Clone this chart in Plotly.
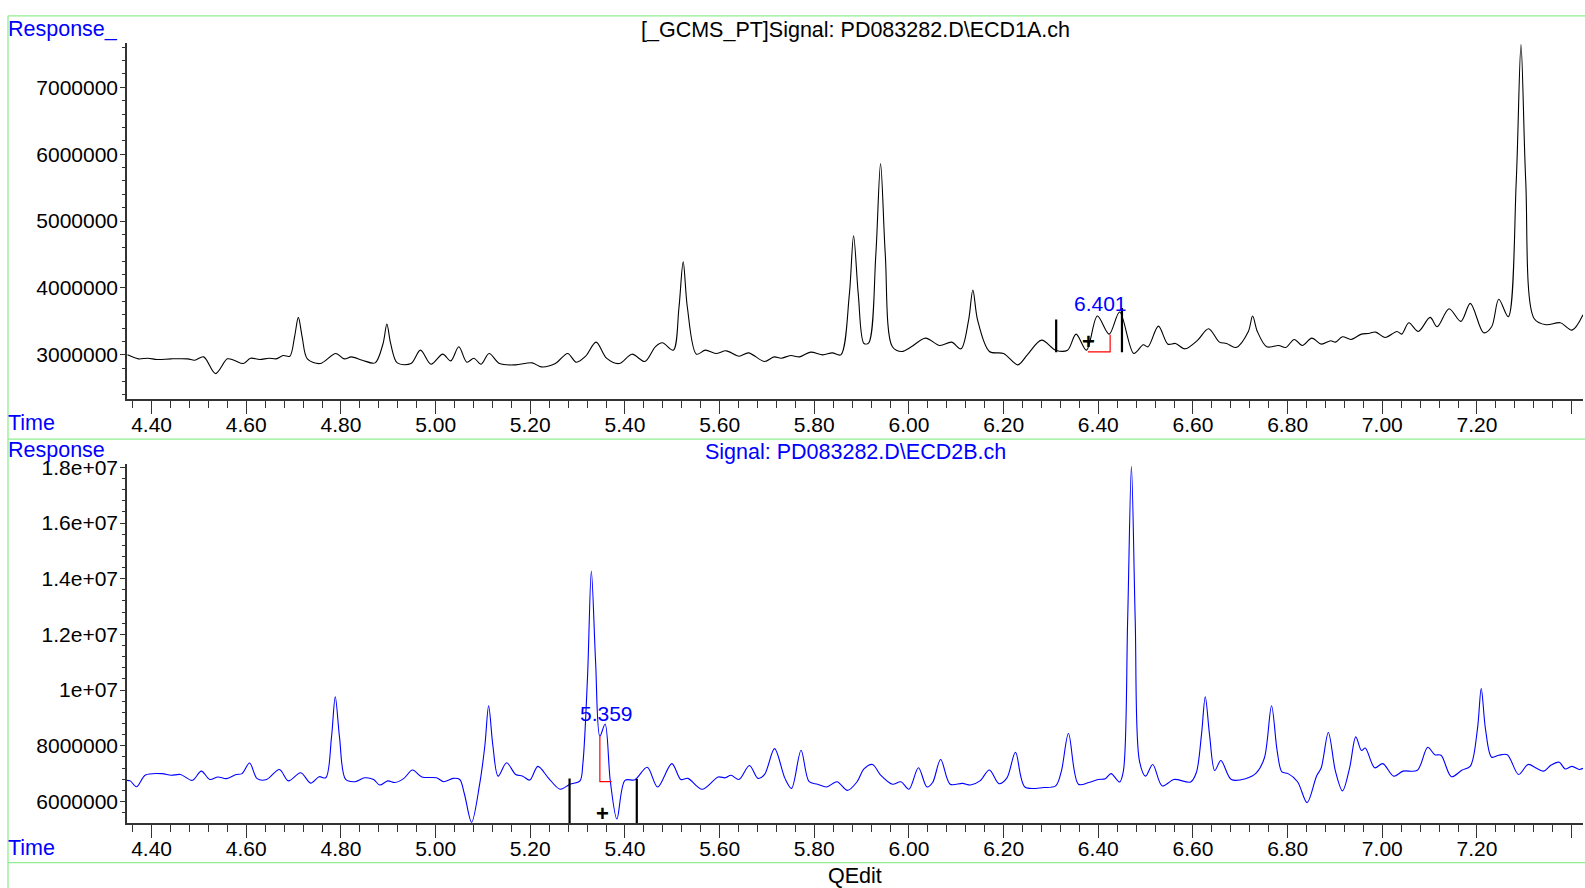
import plotly.graph_objects as go

# ---------------- data ----------------
top_time = [4.349, 4.372, 4.392, 4.412, 4.441, 4.476, 4.491, 4.510, 4.535, 4.560, 4.574, 4.594,
            4.609, 4.628, 4.648, 4.663, 4.678, 4.692, 4.702, 4.710, 4.718, 4.729, 4.756, 4.789,
            4.807, 4.822, 4.845, 4.872, 4.889, 4.897, 4.905, 4.919, 4.948, 4.968, 4.990, 5.015,
            5.032, 5.049, 5.066, 5.081, 5.096, 5.113, 5.135, 5.169, 5.204, 5.223, 5.253, 5.279,
            5.297, 5.317, 5.339, 5.361, 5.388, 5.415, 5.442, 5.464, 5.479, 5.502, 5.514, 5.523,
            5.532, 5.551, 5.570, 5.592, 5.614, 5.641, 5.661, 5.695, 5.715, 5.730, 5.750, 5.769,
            5.792, 5.818, 5.838, 5.856, 5.874, 5.883, 5.893, 5.905, 5.915, 5.930, 5.940, 5.950,
            5.965, 5.985, 6.005, 6.035, 6.065, 6.090, 6.110, 6.126, 6.135, 6.145, 6.170, 6.200,
            6.230, 6.250, 6.280, 6.310, 6.335, 6.353, 6.375, 6.398, 6.423, 6.445, 6.475, 6.495,
            6.505, 6.527, 6.547, 6.563, 6.583, 6.610, 6.633, 6.656, 6.671, 6.691, 6.717, 6.726,
            6.736, 6.756, 6.781, 6.796, 6.814, 6.831, 6.851, 6.871, 6.891, 6.901, 6.916, 6.934,
            6.956, 6.971, 6.986, 7.006, 7.031, 7.041, 7.056, 7.076, 7.101, 7.116, 7.141, 7.166,
            7.186, 7.214, 7.231, 7.246, 7.266, 7.283, 7.293, 7.303, 7.321, 7.346, 7.376, 7.401,
            7.424]
top_response = [3.00, 2.94, 2.95, 2.93, 2.94, 2.94, 2.92, 2.97, 2.72, 2.94, 2.92, 2.87,
                2.95, 2.93, 2.95, 2.94, 2.99, 2.98, 3.27, 3.56, 3.27, 2.94, 2.87, 3.02,
                2.94, 2.97, 2.92, 2.88, 3.17, 3.46, 3.17, 2.88, 2.87, 3.07, 2.86, 3.01,
                2.91, 3.12, 2.89, 2.95, 2.86, 3.02, 2.87, 2.85, 2.88, 2.82, 2.87, 3.02,
                2.89, 2.98, 3.19, 2.95, 2.87, 3.01, 2.90, 3.12, 3.18, 3.07, 3.70, 4.39,
                3.70, 3.01, 3.07, 3.02, 3.06, 2.98, 3.03, 2.90, 2.97, 2.95, 2.99, 2.97,
                3.04, 3.00, 3.03, 3.00, 3.90, 4.78, 3.90, 3.17, 3.18, 4.50, 5.86, 4.50,
                3.12, 3.05, 3.12, 3.25, 3.14, 3.19, 3.09, 3.52, 3.97, 3.52, 3.05, 3.02,
                2.85, 3.00, 3.22, 3.07, 3.07, 3.31, 3.07, 3.58, 3.31, 3.64, 3.02, 3.15,
                3.12, 3.43, 3.16, 3.17, 3.09, 3.22, 3.39, 3.19, 3.17, 3.11, 3.35, 3.58,
                3.35, 3.12, 3.14, 3.11, 3.23, 3.14, 3.25, 3.16, 3.21, 3.19, 3.27, 3.23,
                3.31, 3.32, 3.34, 3.26, 3.35, 3.31, 3.48, 3.35, 3.56, 3.42, 3.69, 3.50,
                3.77, 3.33, 3.42, 3.83, 3.57, 5.60, 7.64, 5.60, 3.54, 3.45, 3.48, 3.37,
                3.60]

bot_time = [4.348, 4.355, 4.368, 4.387, 4.422, 4.441, 4.461, 4.486, 4.505, 4.523, 4.540, 4.558,
            4.579, 4.591, 4.607, 4.623, 4.643, 4.670, 4.689, 4.715, 4.736, 4.754, 4.768, 4.780,
            4.788, 4.797, 4.810, 4.830, 4.850, 4.869, 4.882, 4.899, 4.914, 4.933, 4.951, 4.971,
            5.002, 5.017, 5.037, 5.051, 5.061, 5.076, 5.093, 5.104, 5.112, 5.121, 5.132, 5.150,
            5.169, 5.184, 5.199, 5.216, 5.238, 5.263, 5.284, 5.305, 5.311, 5.321, 5.329, 5.338,
            5.347, 5.358, 5.369, 5.383, 5.400, 5.421, 5.447, 5.469, 5.499, 5.518, 5.533, 5.563,
            5.597, 5.612, 5.624, 5.641, 5.663, 5.681, 5.695, 5.716, 5.738, 5.752, 5.772, 5.789,
            5.807, 5.826, 5.848, 5.870, 5.890, 5.905, 5.923, 5.940, 5.965, 5.983, 6.000, 6.020,
            6.038, 6.050, 6.067, 6.087, 6.113, 6.130, 6.150, 6.170, 6.190, 6.207, 6.225, 6.245,
            6.285, 6.310, 6.322, 6.337, 6.358, 6.380, 6.400, 6.415, 6.427, 6.445, 6.453, 6.462,
            6.470, 6.478, 6.487, 6.500, 6.515, 6.535, 6.560, 6.595, 6.607, 6.618, 6.626, 6.635,
            6.646, 6.659, 6.681, 6.711, 6.734, 6.751, 6.766, 6.778, 6.788, 6.801, 6.821, 6.841,
            6.861, 6.871, 6.886, 6.901, 6.916, 6.931, 6.944, 6.956, 6.964, 6.984, 7.001, 7.024,
            7.044, 7.074, 7.096, 7.111, 7.124, 7.146, 7.168, 7.186, 7.201, 7.209, 7.218, 7.231,
            7.246, 7.264, 7.288, 7.308, 7.326, 7.341, 7.356, 7.374, 7.386, 7.401, 7.416, 7.424]
bot_response = [6.76, 6.74, 6.53, 6.95, 7.00, 6.94, 6.97, 6.76, 7.09, 6.79, 6.88, 6.82,
                6.97, 7.00, 7.38, 6.82, 6.79, 7.15, 6.74, 7.03, 6.66, 6.89, 6.85, 8.30,
                9.76, 8.30, 6.79, 6.71, 6.85, 6.79, 6.59, 6.74, 6.68, 6.83, 7.13, 6.88,
                6.85, 6.71, 6.83, 6.79, 6.26, 5.25, 6.62, 8.00, 9.44, 8.00, 6.91, 7.39,
                6.97, 6.91, 6.77, 7.26, 6.85, 6.44, 6.62, 6.74, 7.34, 10.5, 14.28, 11.0,
                8.34, 8.78, 6.74, 5.37, 6.76, 6.78, 7.23, 6.52, 7.36, 6.79, 6.83, 6.44,
                6.88, 6.85, 6.94, 6.79, 7.29, 6.83, 6.97, 7.90, 6.83, 6.47, 7.84, 6.71,
                6.62, 6.52, 6.71, 6.40, 6.70, 7.17, 7.33, 6.95, 6.62, 6.71, 6.44, 7.21,
                6.52, 6.68, 7.51, 6.62, 6.65, 6.59, 6.74, 7.13, 6.64, 6.85, 7.77, 6.52,
                6.50, 6.56, 7.09, 8.44, 6.62, 6.68, 6.79, 6.82, 7.00, 6.70, 7.09, 12.5,
                18.04, 12.5, 7.45, 6.91, 7.33, 6.56, 6.79, 6.70, 7.03, 8.40, 9.76, 8.40,
                7.11, 7.47, 6.79, 6.82, 7.03, 7.57, 9.44, 7.80, 7.06, 7.00, 6.71, 5.96,
                6.91, 7.21, 8.48, 7.09, 6.38, 7.21, 8.32, 7.83, 7.92, 7.21, 7.36, 6.91,
                7.09, 7.12, 7.95, 7.68, 7.66, 6.89, 7.12, 7.27, 8.60, 10.06, 8.60, 7.59,
                7.66, 7.68, 6.97, 7.33, 7.19, 7.09, 7.30, 7.41, 7.17, 7.26, 7.15, 7.19]

SCALE = 1e6
top_response = [v * SCALE for v in top_response]
bot_response = [v * SCALE for v in bot_response]

# integration event markers
top_event_time = [6.311, 6.450]
top_event_low = [3.04e6, 3.04e6]
top_event_high = [3.53e6, 3.70e6]
top_base_time = [6.378, 6.425, 6.425]
top_base_resp = [3.045e6, 3.045e6, 3.30e6]
top_cross = (6.380, 3.20e6)
top_peak_label = ("6.401", 6.404, 3.77e6)

bot_event_time = [5.283, 5.425]
bot_event_low = [5.22e6, 5.22e6]
bot_event_high = [6.83e6, 6.81e6]
bot_base_time = [5.347, 5.347, 5.372]
bot_base_resp = [8.34e6, 6.71e6, 6.71e6]
bot_cross = (5.353, 5.57e6)
bot_peak_label = ("5.359", 5.361, 9.15e6)

x_tickvals = [4.4, 4.6, 4.8, 5.0, 5.2, 5.4, 5.6, 5.8, 6.0, 6.2, 6.4, 6.6, 6.8, 7.0, 7.2, 7.4]
x_ticktext = ["4.40", "4.60", "4.80", "5.00", "5.20", "5.40", "5.60", "5.80", "6.00", "6.20",
              "6.40", "6.60", "6.80", "7.00", "7.20", ""]
top_y_tickvals = [3e6, 4e6, 5e6, 6e6, 7e6]
top_y_ticktext = ["3000000", "4000000", "5000000", "6000000", "7000000"]
bot_y_tickvals = [6e6, 8e6, 1e7, 1.2e7, 1.4e7, 1.6e7, 1.8e7]
bot_y_ticktext = ["6000000", "8000000", "1e+07", "1.2e+07", "1.4e+07", "1.6e+07", "1.8e+07"]

top_title = "[_GCMS_PT]Signal: PD083282.D\\ECD1A.ch"
bot_title = "Signal: PD083282.D\\ECD2B.ch"

# ---------------- figure ----------------
W, H = 1585, 888
FONT = "Liberation Sans, Arial, sans-serif"
BLUE = "#0000ff"
GREEN = "#90ee90"
AX = "#333333"

def px(x):
    return x / W

def py(y):
    return 1 - y / H

fig = go.Figure()

line_opts = dict(shape="spline", smoothing=0.9, width=1.1)
fig.add_trace(go.Scatter(x=top_time, y=top_response, mode="lines",
                         line=dict(color="black", **line_opts), xaxis="x", yaxis="y",
                         hoverinfo="skip"))
fig.add_trace(go.Scatter(x=bot_time, y=bot_response, mode="lines",
                         line=dict(color=BLUE, **line_opts), xaxis="x2", yaxis="y2",
                         hoverinfo="skip"))

for (ts, lo, hi, xa, ya) in [(top_event_time, top_event_low, top_event_high, "x", "y"),
                             (bot_event_time, bot_event_low, bot_event_high, "x2", "y2")]:
    for t, a, b in zip(ts, lo, hi):
        fig.add_trace(go.Scatter(x=[t, t], y=[a, b], mode="lines",
                                 line=dict(color="black", width=2.2), xaxis=xa, yaxis=ya,
                                 hoverinfo="skip"))
fig.add_trace(go.Scatter(x=top_base_time, y=top_base_resp, mode="lines",
                         line=dict(color="red", width=1.2), xaxis="x", yaxis="y"))
fig.add_trace(go.Scatter(x=bot_base_time, y=bot_base_resp, mode="lines",
                         line=dict(color="red", width=1.2), xaxis="x2", yaxis="y2"))

x_range = [4.348, 7.424]
tickfont = dict(family=FONT, size=21, color="black")

def xaxis(anchor):
    return dict(range=x_range, domain=[px(127), px(1583)], anchor=anchor,
                showline=True, linecolor=AX, linewidth=1.5, ticks="outside", ticklen=13,
                tickwidth=1.3, tickcolor=AX, tickmode="array", tickvals=x_tickvals,
                ticktext=x_ticktext, tickfont=tickfont, showgrid=False, zeroline=False,
                ticklabelstandoff=-7,
                minor=dict(tickmode="linear", tick0=4.36, dtick=0.04, ticks="outside",
                           ticklen=7, tickwidth=1, tickcolor=AX, showgrid=False))

def yaxis(rng, dom, anchor, tv, tt, mdt):
    return dict(range=rng, domain=dom, anchor=anchor, showline=True, linecolor=AX,
                linewidth=1.5, ticks="outside", ticklen=5, tickwidth=1.2, tickcolor=AX,
                tickmode="array", tickvals=tv, ticktext=tt, tickfont=tickfont,
                showgrid=False, zeroline=False, ticklabelstandoff=-2,
                minor=dict(tickmode="linear", tick0=tv[0], dtick=mdt, ticks="outside",
                           ticklen=3, tickwidth=1, tickcolor=AX, showgrid=False))

fig.update_layout(
    width=W, height=H, autosize=False, showlegend=False,
    margin=dict(l=0, r=0, t=0, b=0, pad=0),
    paper_bgcolor="white", plot_bgcolor="white",
    font=dict(family=FONT, size=21, color="black"),
    xaxis=xaxis("y"),
    yaxis=yaxis([2.3333e6, 7.6667e6], [py(395), py(35)], "x",
                top_y_tickvals, top_y_ticktext, 2e5),
    xaxis2=xaxis("y2"),
    yaxis2=yaxis([5.217e6, 1.8125e7], [py(822.7), py(460)], "x2",
                 bot_y_tickvals, bot_y_ticktext, 4e5),
)

shapes = [
    dict(type="line", xref="paper", yref="paper", x0=px(8), x1=1, y0=py(8), y1=py(8)),
    dict(type="line", xref="paper", yref="paper", x0=px(8), x1=1, y0=py(435), y1=py(435)),
    dict(type="line", xref="paper", yref="paper", x0=px(8), x1=1, y0=py(862.3), y1=py(862.3)),
    dict(type="line", xref="paper", yref="paper", x0=px(8), x1=px(8), y0=py(8), y1=0),
]
for s in shapes:
    s["line"] = dict(color=GREEN, width=1.3)
fig.update_layout(shapes=shapes)

ann = []
def text(x, y, s, color="black", size=21.5, xanchor="left"):
    ann.append(dict(x=px(x), y=py(y), xref="paper", yref="paper", text=s, showarrow=False,
                    xanchor=xanchor, yanchor="middle", borderpad=0,
                    font=dict(family=FONT, size=size, color=color)))

text(7, 21, "Response_", BLUE)
text(7, 419, "Time", BLUE)
text(7, 446, "Response", BLUE)
text(7, 848, "Time", BLUE)
text(855, 22, top_title, "black", xanchor="center")
text(855, 448, bot_title, BLUE, xanchor="center")
text(855, 876, "QEdit", "black", xanchor="center")

for (lab, xa, ya) in [(top_peak_label, "x", "y"), (bot_peak_label, "x2", "y2")]:
    ann.append(dict(x=lab[1], y=lab[2], xref=xa, yref=ya, text=lab[0], showarrow=False,
                    xanchor="center", yanchor="middle", borderpad=0,
                    font=dict(family=FONT, size=21, color=BLUE)))
for (c, xa, ya) in [(top_cross, "x", "y"), (bot_cross, "x2", "y2")]:
    ann.append(dict(x=c[0], y=c[1], xref=xa, yref=ya, text="<b>+</b>", showarrow=False,
                    xanchor="center", yanchor="middle", borderpad=0,
                    font=dict(family=FONT, size=22, color="black")))
fig.update_layout(annotations=ann)

# remove the default page margin so the figure sits at the window's top-left corner
fig.write_html("out.html",
               config={"displayModeBar": False},
               post_script="document.body.style.margin='0';document.body.style.overflow='hidden';")
